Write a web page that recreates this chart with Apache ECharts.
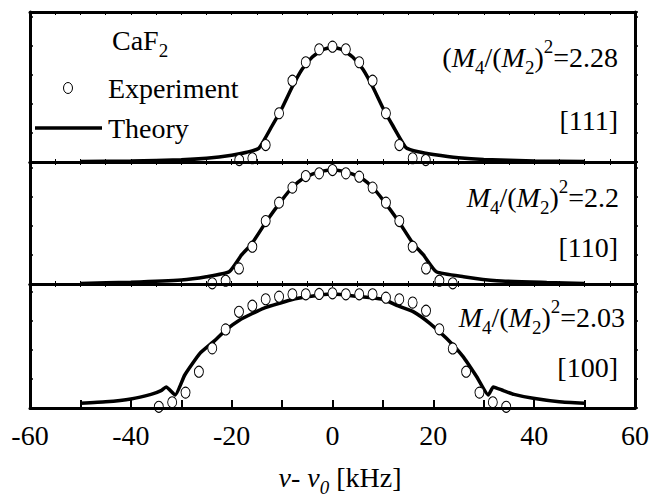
<!DOCTYPE html>
<html>
<head>
<meta charset="utf-8">
<script src="https://cdn.jsdelivr.net/npm/echarts@6/dist/echarts.min.js"></script>
<style>
html,body{margin:0;padding:0;background:#fff;}
#chart{width:658px;height:499px;}
</style>
</head>
<body>
<div id="chart"></div>
<script>
// ---------- data (x in kHz, y = normalized intensity) ----------
const xTickLabels = [-60, -40, -20, 0, 20, 40, 60];

// [111] panel
const exp111X = [-18.5,-15.9,-13.25,-10.6,-7.95,-5.3,-2.65,0,2.65,5.3,7.95,10.6,13.25,15.9,18.5];
const exp111Y = [0.013,0.025,0.113,0.325,0.542,0.665,0.751,0.769,0.751,0.665,0.542,0.325,0.113,0.025,0.013];
const th111X = [-50,-40,-30,-25,-20,-17,-14.6,-12,-10,-8,-6,-4,-2,0,2,4,6,8,10,12,14.6,17,20,25,30,40,50];
const th111Y = [0.003,0.007,0.015,0.025,0.045,0.065,0.092,0.24,0.36,0.5,0.62,0.7,0.748,0.765,0.748,0.7,0.62,0.5,0.36,0.24,0.095,0.068,0.05,0.028,0.016,0.007,0.003];

// [110] panel
const exp110X = [-23.85,-21.2,-18.55,-15.9,-13.25,-10.6,-7.95,-5.3,-2.65,0,2.65,5.3,7.95,10.6,13.25,15.9,18.55,21.2,23.85];
const exp110Y = [0.006,0.027,0.128,0.306,0.516,0.667,0.79,0.885,0.907,0.934,0.907,0.88,0.79,0.667,0.516,0.306,0.128,0.027,0.006];
const th110X = [-50,-40,-30,-25,-20.5,-18,-16,-13,-10,-8,-6,-4,-2,0,2,4,6,8,10,13,16,18,20.6,26,32.6,42.5,50];
const th110Y = [0.005,0.015,0.033,0.06,0.10,0.24,0.33,0.52,0.69,0.79,0.86,0.9,0.925,0.935,0.925,0.9,0.86,0.79,0.69,0.52,0.33,0.24,0.10,0.06,0.027,0.013,0.005];

// [100] panel
const exp100X = [-34.45,-31.8,-29.15,-26.5,-23.85,-21.2,-18.55,-15.9,-13.25,-10.6,-7.95,-5.3,-2.65,0,2.65,5.3,7.95,10.6,13.25,15.9,18.55,21.2,23.85,26.5,29.15,31.8,34.45];
const exp100Y = [0.01,0.046,0.124,0.293,0.481,0.634,0.776,0.825,0.877,0.898,0.917,0.917,0.92,0.925,0.917,0.917,0.917,0.89,0.877,0.85,0.785,0.635,0.48,0.293,0.124,0.046,0.01];
const th100X = [-50,-45,-40,-36,-34,-33,-31.2,-29.3,-26.3,-23.6,-21,-18.4,-16,-13.7,-10.5,-7.8,-5,-2.5,0,2.5,5,7.8,10,13.4,16,19.3,22.6,25.9,28.6,30.9,31.9,33.9,36,39.8,45,50];
const th100Y = [0.038,0.05,0.073,0.11,0.14,0.17,0.105,0.266,0.44,0.535,0.634,0.71,0.76,0.804,0.845,0.877,0.897,0.912,0.92,0.912,0.9,0.89,0.877,0.817,0.777,0.683,0.562,0.414,0.252,0.105,0.17,0.14,0.11,0.078,0.05,0.038];

// ---------- build ----------
const pairs = (xs, ys) => xs.map((x, i) => [x, ys[i]]);
const FONT = '"Liberation Serif","Times New Roman",serif';
const panels = [
  {top: 12, height: 150, exp: pairs(exp111X, exp111Y), th: pairs(th111X, th111Y)},
  {top: 162, height: 122, exp: pairs(exp110X, exp110Y), th: pairs(th110X, th110Y)},
  {top: 284, height: 124, exp: pairs(exp100X, exp100Y), th: pairs(th100X, th100Y)}
];
const axisLine = {show: true, onZero: false, lineStyle: {color: '#000', width: 3}};
const grids = [], xAxes = [], yAxes = [], series = [];
panels.forEach((p, i) => {
  grids.push({left: 30, right: 23, top: p.top, height: p.height, containLabel: false});
  const last = i === panels.length - 1;
  xAxes.push({
    gridIndex: i, type: 'value', position: 'bottom', min: -60, max: 60,
    interval: last ? 20 : 5, z: 5,
    axisLine: axisLine,
    axisTick: {show: true, inside: true, length: last ? 8 : 3, lineStyle: {color: '#000', width: last ? 2 : 1}},
    minorTick: {show: last, splitNumber: 2, length: 8, lineStyle: {color: '#000', width: 2}},
    axisLabel: {show: last, color: '#000', fontFamily: FONT, fontSize: 28, margin: 13,
      formatter: v => xTickLabels.indexOf(v) >= 0 ? String(v) : ''},
    splitLine: {show: false}
  });
  xAxes.push({
    gridIndex: i, type: 'value', position: 'top', min: -60, max: 60, interval: 5, z: 5,
    axisLine: axisLine,
    axisTick: {show: true, inside: true, length: 3, lineStyle: {color: '#000', width: 1}},
    axisLabel: {show: false}, splitLine: {show: false}
  });
  const yInt = 29 / p.height;
  ['left', 'right'].forEach(pos => {
    yAxes.push({
      gridIndex: i, type: 'value', position: pos, min: 0, max: 1, interval: yInt, z: 5,
      axisLine: axisLine,
      axisTick: {show: true, inside: pos === 'left', length: 3, lineStyle: {color: '#000', width: 1.5}},
      axisLabel: {show: false}, splitLine: {show: false}
    });
  });
  series.push({
    type: 'line', xAxisIndex: 2 * i, yAxisIndex: 2 * i, data: p.th, showSymbol: false,
    smooth: 0.15, lineStyle: {color: '#000', width: 3.5}, z: 2, silent: true, animation: false
  });
  series.push({
    type: 'scatter', xAxisIndex: 2 * i, yAxisIndex: 2 * i, data: p.exp, symbol: 'circle',
    symbolSize: [9, 11], itemStyle: {color: '#fff', borderColor: '#000', borderWidth: 1, opacity: 1},
    z: 3, silent: true, animation: false
  });
});

const rich = {
  n: {fontFamily: FONT, fontSize: 28, lineHeight: 40, verticalAlign: 'middle', fill: '#000'},
  i: {fontFamily: FONT, fontSize: 28, fontStyle: 'italic', lineHeight: 40, verticalAlign: 'middle', fill: '#000'},
  sub: {fontFamily: FONT, fontSize: 19, lineHeight: 14, verticalAlign: 'bottom', fill: '#000'},
  isub: {fontFamily: FONT, fontSize: 19, fontStyle: 'italic', lineHeight: 14, verticalAlign: 'bottom', fill: '#000'},
  sup: {fontFamily: FONT, fontSize: 19, lineHeight: 14, verticalAlign: 'top', fill: '#000'}
};
function txt(x, y, text, align) {
  return {type: 'text', x: x, y: y, z: 10, silent: true,
    style: {text: text, rich: rich, fontFamily: FONT, fontSize: 28, fill: '#000',
      align: align || 'left', verticalAlign: 'middle'}};
}
const graphic = [
  txt(112, 40, '{n|CaF}{sub|2}'),
  {type: 'ellipse', shape: {cx: 68, cy: 88, rx: 4.5, ry: 5.5}, z: 10,
    style: {fill: '#fff', stroke: '#000', lineWidth: 1}},
  txt(108, 88, '{n|Experiment}'),
  {type: 'line', shape: {x1: 35, y1: 128, x2: 102, y2: 128}, z: 10,
    style: {stroke: '#000', lineWidth: 3.5}},
  txt(108, 128, '{n|Theory}'),
  txt(618, 57, '{n|(}{i|M}{sub|4}{n|/(}{i|M}{sub|2}{n|)}{sup|2}{n|=2.28}', 'right'),
  txt(618, 120, '{n|[111]}', 'right'),
  txt(619, 197, '{i|M}{sub|4}{n|/(}{i|M}{sub|2}{n|)}{sup|2}{n|=2.2}', 'right'),
  txt(618, 247, '{n|[110]}', 'right'),
  txt(625, 317, '{i|M}{sub|4}{n|/(}{i|M}{sub|2}{n|)}{sup|2}{n|=2.03}', 'right'),
  txt(618, 367, '{n|[100]}', 'right'),
  txt(340, 477, '{i|ν}{n|- }{i|ν}{isub|0}{n| [kHz]}', 'center')
];

const chart = echarts.init(document.getElementById('chart'), null, {renderer: 'svg'});
chart.setOption({
  animation: false,
  backgroundColor: '#fff',
  grid: grids, xAxis: xAxes, yAxis: yAxes, series: series, graphic: graphic
});
</script>
</body>
</html>
